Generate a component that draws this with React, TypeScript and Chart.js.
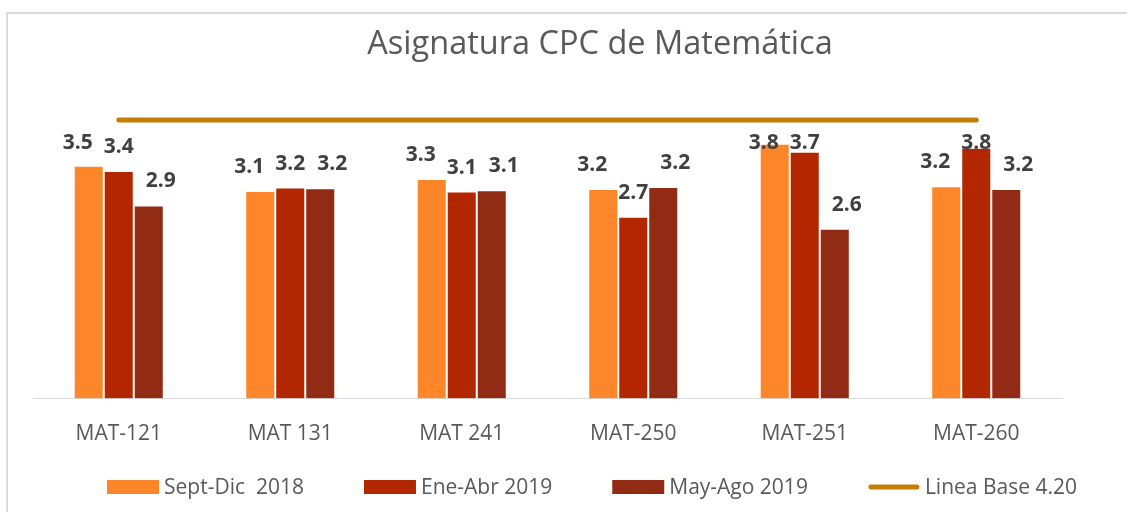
import React, { useEffect, useRef } from "react";
import { Chart, registerables } from "chart.js";

Chart.register(...registerables);

const categories = ["MAT-121", "MAT 131", "MAT 241", "MAT-250", "MAT-251", "MAT-260"];
const sepDic2018 = [3.51, 3.13, 3.31, 3.16, 3.84, 3.2];
const eneAbr2019 = [3.43, 3.18, 3.12, 2.74, 3.72, 3.78];
const mayAgo2019 = [2.91, 3.17, 3.14, 3.19, 2.56, 3.16];
const lineaBase = [4.2, 4.2, 4.2, 4.2, 4.2, 4.2];
const seriesNames = ["Sept-Dic  2018", "Ene-Abr 2019", "May-Ago 2019", "Linea Base 4.20"];
const seriesColors = ["#FD862A", "#B22600", "#922B14", "#C57D03"];
const titleText = "Asignatura CPC de Matemática";

const FONT = '"Open Sans", "Noto Sans", sans-serif';
const TEXT_GRAY = "#595959";
// horizontal nudge of the value labels per series (left / centre / right)
const labelNudge = [-11, 0, 12];

const customPlugin = {
  id: "customDraw",
  beforeDraw(chart: any) {
    const ctx = chart.ctx;
    ctx.save();
    ctx.strokeStyle = "#D9D9D9";
    ctx.lineWidth = 2;
    ctx.strokeRect(7, 13, 1300, 700);
    ctx.restore();
  },
  afterDatasetsDraw(chart: any) {
    const ctx = chart.ctx;
    const yScale = chart.scales.y;
    const minY = yScale.getPixelForValue(lineaBase[0]) + 23;
    ctx.save();
    ctx.font = `bold 21px ${FONT}`;
    ctx.fillStyle = "#404040";
    ctx.textAlign = "center";
    ctx.textBaseline = "middle";
    chart.data.datasets.forEach((ds: any, i: number) => {
      if (ds.type === "line") return;
      const meta = chart.getDatasetMeta(i);
      meta.data.forEach((el: any, j: number) => {
        const v = ds.data[j];
        const y = Math.max(el.y - 24, minY);
        ctx.fillText(v.toFixed(1), el.x + (labelNudge[i] || 0), y);
      });
    });
    ctx.restore();
  },
  afterDraw(chart: any) {
    const ctx = chart.ctx;
    ctx.save();
    // title
    ctx.font = `32.5px ${FONT}`;
    ctx.fillStyle = TEXT_GRAY;
    ctx.textAlign = "center";
    ctx.textBaseline = "middle";
    ctx.fillText(titleText, 600, 45);
    // legend
    ctx.font = `21px ${FONT}`;
    const boxW = 52;
    const boxH = 14;
    const textGap = 5;
    const itemGap = 60;
    const widths = seriesNames.map((n) => boxW + textGap + ctx.measureText(n).width);
    const total = widths.reduce((a, b) => a + b, 0) + itemGap * (widths.length - 1);
    let x = 592 - total / 2;
    const cy = 487;
    ctx.textAlign = "left";
    seriesNames.forEach((name, i) => {
      if (i === 3) {
        ctx.strokeStyle = seriesColors[i];
        ctx.lineWidth = 5;
        ctx.lineCap = "round";
        ctx.beginPath();
        ctx.moveTo(x + 3, cy);
        ctx.lineTo(x + boxW - 3, cy);
        ctx.stroke();
      } else {
        ctx.fillStyle = seriesColors[i];
        ctx.fillRect(x, cy - boxH / 2, boxW, boxH);
      }
      ctx.fillStyle = TEXT_GRAY;
      ctx.fillText(name, x + boxW + textGap, cy + 1);
      x += widths[i] + itemGap;
    });
    ctx.restore();
  },
};

export default function App() {
  const canvasRef = useRef<HTMLCanvasElement | null>(null);

  useEffect(() => {
    let chart: Chart | null = null;
    let cancelled = false;
    const make = () => {
      if (cancelled || !canvasRef.current) return;
      chart = new Chart(canvasRef.current, {
        type: "bar",
        data: {
          labels: categories,
          datasets: [
            {
              type: "bar",
              label: seriesNames[0],
              data: sepDic2018,
              backgroundColor: seriesColors[0],
              borderColor: "rgba(255,255,255,0.35)",
              borderWidth: 1,
            },
            {
              type: "bar",
              label: seriesNames[1],
              data: eneAbr2019,
              backgroundColor: seriesColors[1],
              borderColor: "rgba(255,255,255,0.35)",
              borderWidth: 1,
            },
            {
              type: "bar",
              label: seriesNames[2],
              data: mayAgo2019,
              backgroundColor: seriesColors[2],
              borderColor: "rgba(255,255,255,0.35)",
              borderWidth: 1,
            },
            {
              type: "line",
              label: seriesNames[3],
              data: lineaBase,
              borderColor: seriesColors[3],
              backgroundColor: seriesColors[3],
              borderWidth: 5,
              borderCapStyle: "round",
              pointRadius: 0,
              fill: false,
            } as any,
          ],
        },
        options: {
          responsive: false,
          animation: false,
          devicePixelRatio: 1,
          layout: { padding: { top: 100, left: 33, right: 65, bottom: 0 } },
          datasets: {
            bar: { categoryPercentage: 0.525, barPercentage: 1 },
          } as any,
          plugins: {
            legend: { display: false },
            title: { display: false },
            tooltip: { enabled: false },
          },
          scales: {
            x: {
              grid: { display: false, drawTicks: false },
              border: { display: true, color: "#D9D9D9", width: 1 },
              ticks: {
                color: TEXT_GRAY,
                font: { family: FONT, size: 21 },
                padding: 23,
                maxRotation: 0,
              },
              afterFit: (scale: any) => {
                scale.height = 113.5;
              },
            },
            y: {
              display: false,
              min: 0,
              max: 4.5,
            },
          },
        },
        plugins: [customPlugin],
      });
    };
    const fontsReady = (document as any).fonts
      ? Promise.all([
          (document as any).fonts.load(`21px "Open Sans"`),
          (document as any).fonts.load(`bold 21px "Open Sans"`),
          (document as any).fonts.load(`32px "Open Sans"`),
        ]).catch(() => null)
      : Promise.resolve(null);
    fontsReady.then(make);
    return () => {
      cancelled = true;
      if (chart) chart.destroy();
    };
  }, []);

  return (
    <div style={{ position: "absolute", left: 0, top: 0, width: 1127, height: 512, background: "#fff" }}>
      <canvas ref={canvasRef} width={1127} height={512} style={{ display: "block" }} />
    </div>
  );
}
